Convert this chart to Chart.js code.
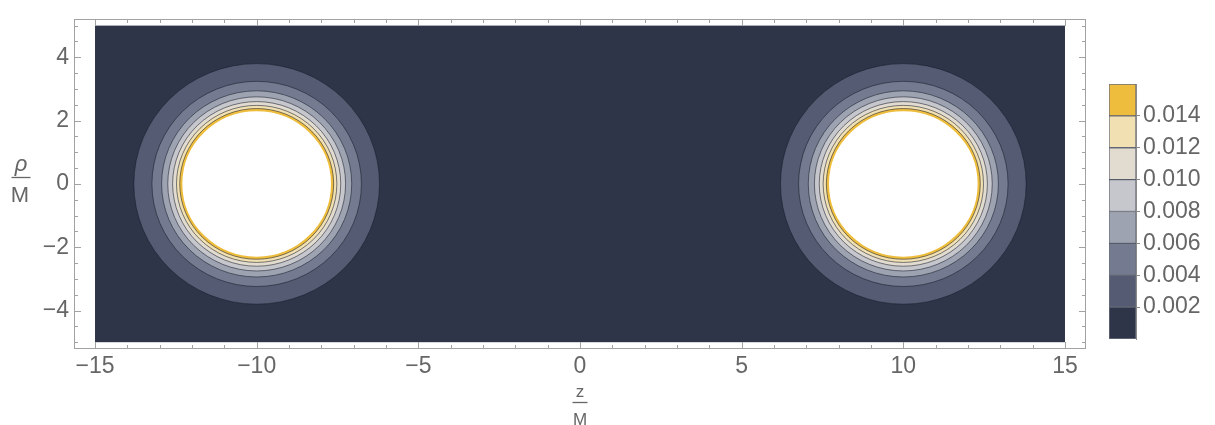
<!DOCTYPE html>
<html>
<head>
<meta charset="utf-8">
<script src="https://cdn.jsdelivr.net/npm/chart.js@4/dist/chart.umd.min.js"></script>
<style>
  html, body { margin: 0; padding: 0; background: #ffffff; }
  #wrap { position: relative; width: 1215px; height: 425px; }
  #main { position: absolute; left: 0; top: 0; }
  #bar { position: absolute; left: 1100px; top: 60px; }
</style>
</head>
<body>
<div id="wrap">
  <canvas id="main" width="1215" height="425"></canvas>
  <canvas id="bar" width="115" height="300"></canvas>
</div>
<script>
// Axis ticks (z/M horizontal, rho/M vertical)
const zTicks = [-15,-14,-13,-12,-11,-10,-9,-8,-7,-6,-5,-4,-3,-2,-1,0,1,2,3,4,5,6,7,8,9,10,11,12,13,14,15];
const zLabeled = [-15,-10,-5,0,5,10,15];
const rhoTicks = [-5,-4.5,-4,-3.5,-3,-2.5,-2,-1.5,-1,-0.5,0,0.5,1,1.5,2,2.5,3,3.5,4,4.5,5];
const rhoLabeled = [-4,-2,0,2,4];

// Plotted domain
const zRange = [-15, 15];
const rhoRange = [-5, 5];

// The two sources, at z = -10 and z = +10 on the axis
const sourceZ = [-10, 10];
const sourceRho = [0, 0];

// Contour levels and the distance from each source at which the field reaches them
const levels = [0.002, 0.004, 0.006, 0.008, 0.010, 0.012, 0.014];
const levelRadius = [3.80, 3.24, 2.94, 2.75, 2.60, 2.48, 2.38];
// Inside this distance the field exceeds the plot range (left blank)
const clipRadius = 2.32;

// Fill for each band: below the first level, between levels, above the last level
const bandColors = ['#2e3549', '#545b72', '#747b90', '#9ea3b2', '#c6c7cc', '#e2dcd0', '#f0e0b2', '#eebd3d'];
// Extent of each band in the colour legend
const barEdges = [0, 0.002, 0.004, 0.006, 0.008, 0.010, 0.012, 0.014, 0.016];

const FONT = '"Liberation Sans", Arial, sans-serif';
const TEXT = '#666666';
const FRAME = '#a2a2a2';

const fmt = v => (v < 0 ? '\u2212' + (-v) : String(v));

// Filled contour bands around each source
const contourPlugin = {
  id: 'contours',
  beforeDatasetsDraw(chart) {
    const { ctx, scales: { x, y } } = chart;
    const x0 = x.getPixelForValue(zRange[0]), x1 = x.getPixelForValue(zRange[1]);
    const y0 = y.getPixelForValue(rhoRange[1]), y1 = y.getPixelForValue(rhoRange[0]);
    ctx.save();
    ctx.fillStyle = bandColors[0];
    ctx.fillRect(x0, y0, x1 - x0, y1 - y0);
    ctx.beginPath();
    ctx.rect(x0, y0, x1 - x0, y1 - y0);
    ctx.clip();
    sourceZ.forEach((zc, k) => {
      const rc = sourceRho[k];
      const cx = x.getPixelForValue(zc), cy = y.getPixelForValue(rc);
      const ring = r => {
        const rx = Math.abs(x.getPixelForValue(zc + r) - cx);
        const ry = Math.abs(y.getPixelForValue(rc + r) - cy);
        ctx.beginPath();
        ctx.ellipse(cx, cy, rx, ry, 0, 0, Math.PI * 2);
      };
      levelRadius.forEach((r, i) => {
        ring(r);
        ctx.fillStyle = bandColors[i + 1];
        ctx.fill();
        ctx.strokeStyle = 'rgba(22,26,40,0.55)';
        ctx.lineWidth = 1;
        ctx.stroke();
      });
      ring(clipRadius);
      ctx.fillStyle = '#ffffff';
      ctx.fill();
      ctx.strokeStyle = bandColors[bandColors.length - 1];
      ctx.lineWidth = 1.4;
      ctx.stroke();
    });
    ctx.restore();
  }
};

// Frame with inward ticks on all four sides, and the fraction axis labels
const framePlugin = {
  id: 'frame',
  afterDatasetsDraw(chart) {
    const { ctx, chartArea: a, scales: { x, y } } = chart;
    const L = Math.round(a.left) + 0.5, R = Math.round(a.right) - 0.5;
    const T = Math.round(a.top) + 0.5, B = Math.round(a.bottom) - 0.5;
    ctx.save();
    ctx.strokeStyle = FRAME;
    ctx.lineWidth = 1;
    ctx.strokeRect(L, T, R - L, B - T);
    ctx.beginPath();
    x.ticks.forEach(t => {
      const px = Math.round(x.getPixelForValue(t.value)) + 0.5;
      const len = zLabeled.includes(t.value) ? 6.5 : 3.5;
      ctx.moveTo(px, B); ctx.lineTo(px, B - len);
      ctx.moveTo(px, T); ctx.lineTo(px, T + len);
    });
    y.ticks.forEach(t => {
      const py = Math.round(y.getPixelForValue(t.value)) + 0.5;
      const len = rhoLabeled.includes(t.value) ? 6.5 : 3.5;
      ctx.moveTo(L, py); ctx.lineTo(L + len, py);
      ctx.moveTo(R, py); ctx.lineTo(R - len, py);
    });
    ctx.stroke();

    // rho / M
    ctx.fillStyle = TEXT;
    ctx.strokeStyle = TEXT;
    ctx.textAlign = 'center';
    ctx.textBaseline = 'alphabetic';
    ctx.font = 'italic 22px ' + FONT;
    ctx.fillText('\u03c1', 21, 171);
    ctx.lineWidth = 1.3;
    ctx.beginPath(); ctx.moveTo(11.5, 177.5); ctx.lineTo(30.5, 177.5); ctx.stroke();
    ctx.font = '22px ' + FONT;
    ctx.fillText('M', 20, 201.5);

    // z / M
    ctx.font = '17px ' + FONT;
    ctx.fillText('z', 580, 397);
    ctx.beginPath(); ctx.moveTo(572.5, 402.5); ctx.lineTo(587.5, 402.5); ctx.stroke();
    ctx.fillText('M', 580, 425);
    ctx.restore();
  }
};

new Chart(document.getElementById('main'), {
  type: 'scatter',
  data: {
    datasets: [{
      data: sourceZ.map((z, i) => ({ x: z, y: sourceRho[i] })),
      pointRadius: 0
    }]
  },
  options: {
    responsive: false,
    animation: false,
    devicePixelRatio: 1,
    layout: { padding: { left: 0, top: 11, right: 129, bottom: 0 } },
    plugins: { legend: { display: false }, tooltip: { enabled: false } },
    scales: {
      x: {
        type: 'linear',
        min: -15.65, max: 15.65,
        afterBuildTicks: s => { s.ticks = zTicks.map(v => ({ value: v })); },
        afterFit: s => { s.height = 76; },
        grid: { display: false, drawTicks: false },
        border: { display: false },
        ticks: {
          autoSkip: false, maxRotation: 0, minRotation: 0, padding: 4,
          color: TEXT, font: { family: FONT, size: 23 },
          callback: v => (zLabeled.includes(v) ? fmt(v) : '')
        }
      },
      y: {
        type: 'linear',
        min: -5.215, max: 5.215,
        afterBuildTicks: s => { s.ticks = rhoTicks.map(v => ({ value: v })); },
        afterFit: s => { s.width = 74; },
        grid: { display: false, drawTicks: false },
        border: { display: false },
        ticks: {
          autoSkip: false, padding: 5,
          color: TEXT, font: { family: FONT, size: 23 },
          callback: v => (rhoLabeled.includes(v) ? fmt(v) : '')
        }
      }
    }
  },
  plugins: [contourPlugin, framePlugin]
});

// Colour legend: one floating bar segment per band
new Chart(document.getElementById('bar'), {
  type: 'bar',
  data: {
    labels: [''],
    datasets: bandColors.map((c, i) => ({
      data: [[barEdges[i], barEdges[i + 1]]],
      backgroundColor: c,
      borderColor: 'rgba(60,64,80,0.75)',
      borderWidth: 1,
      borderSkipped: false,
      categoryPercentage: 1,
      barPercentage: 1,
      grouped: false
    }))
  },
  options: {
    responsive: false,
    animation: false,
    devicePixelRatio: 1,
    layout: { padding: { left: 9, top: 24, bottom: 21, right: 0 } },
    plugins: { legend: { display: false }, tooltip: { enabled: false } },
    scales: {
      x: { display: false },
      y: {
        position: 'right',
        min: barEdges[0], max: barEdges[barEdges.length - 1],
        afterBuildTicks: s => { s.ticks = levels.map(v => ({ value: v })); },
        afterFit: s => { s.width = 79; },
        grid: { drawOnChartArea: false, drawTicks: true, tickLength: 4, color: '#888888' },
        border: { display: true, color: '#8a8a8a' },
        ticks: {
          padding: 3, color: TEXT, font: { family: FONT, size: 23 },
          callback: v => v.toFixed(3)
        }
      }
    }
  }
});
</script>
</body>
</html>
